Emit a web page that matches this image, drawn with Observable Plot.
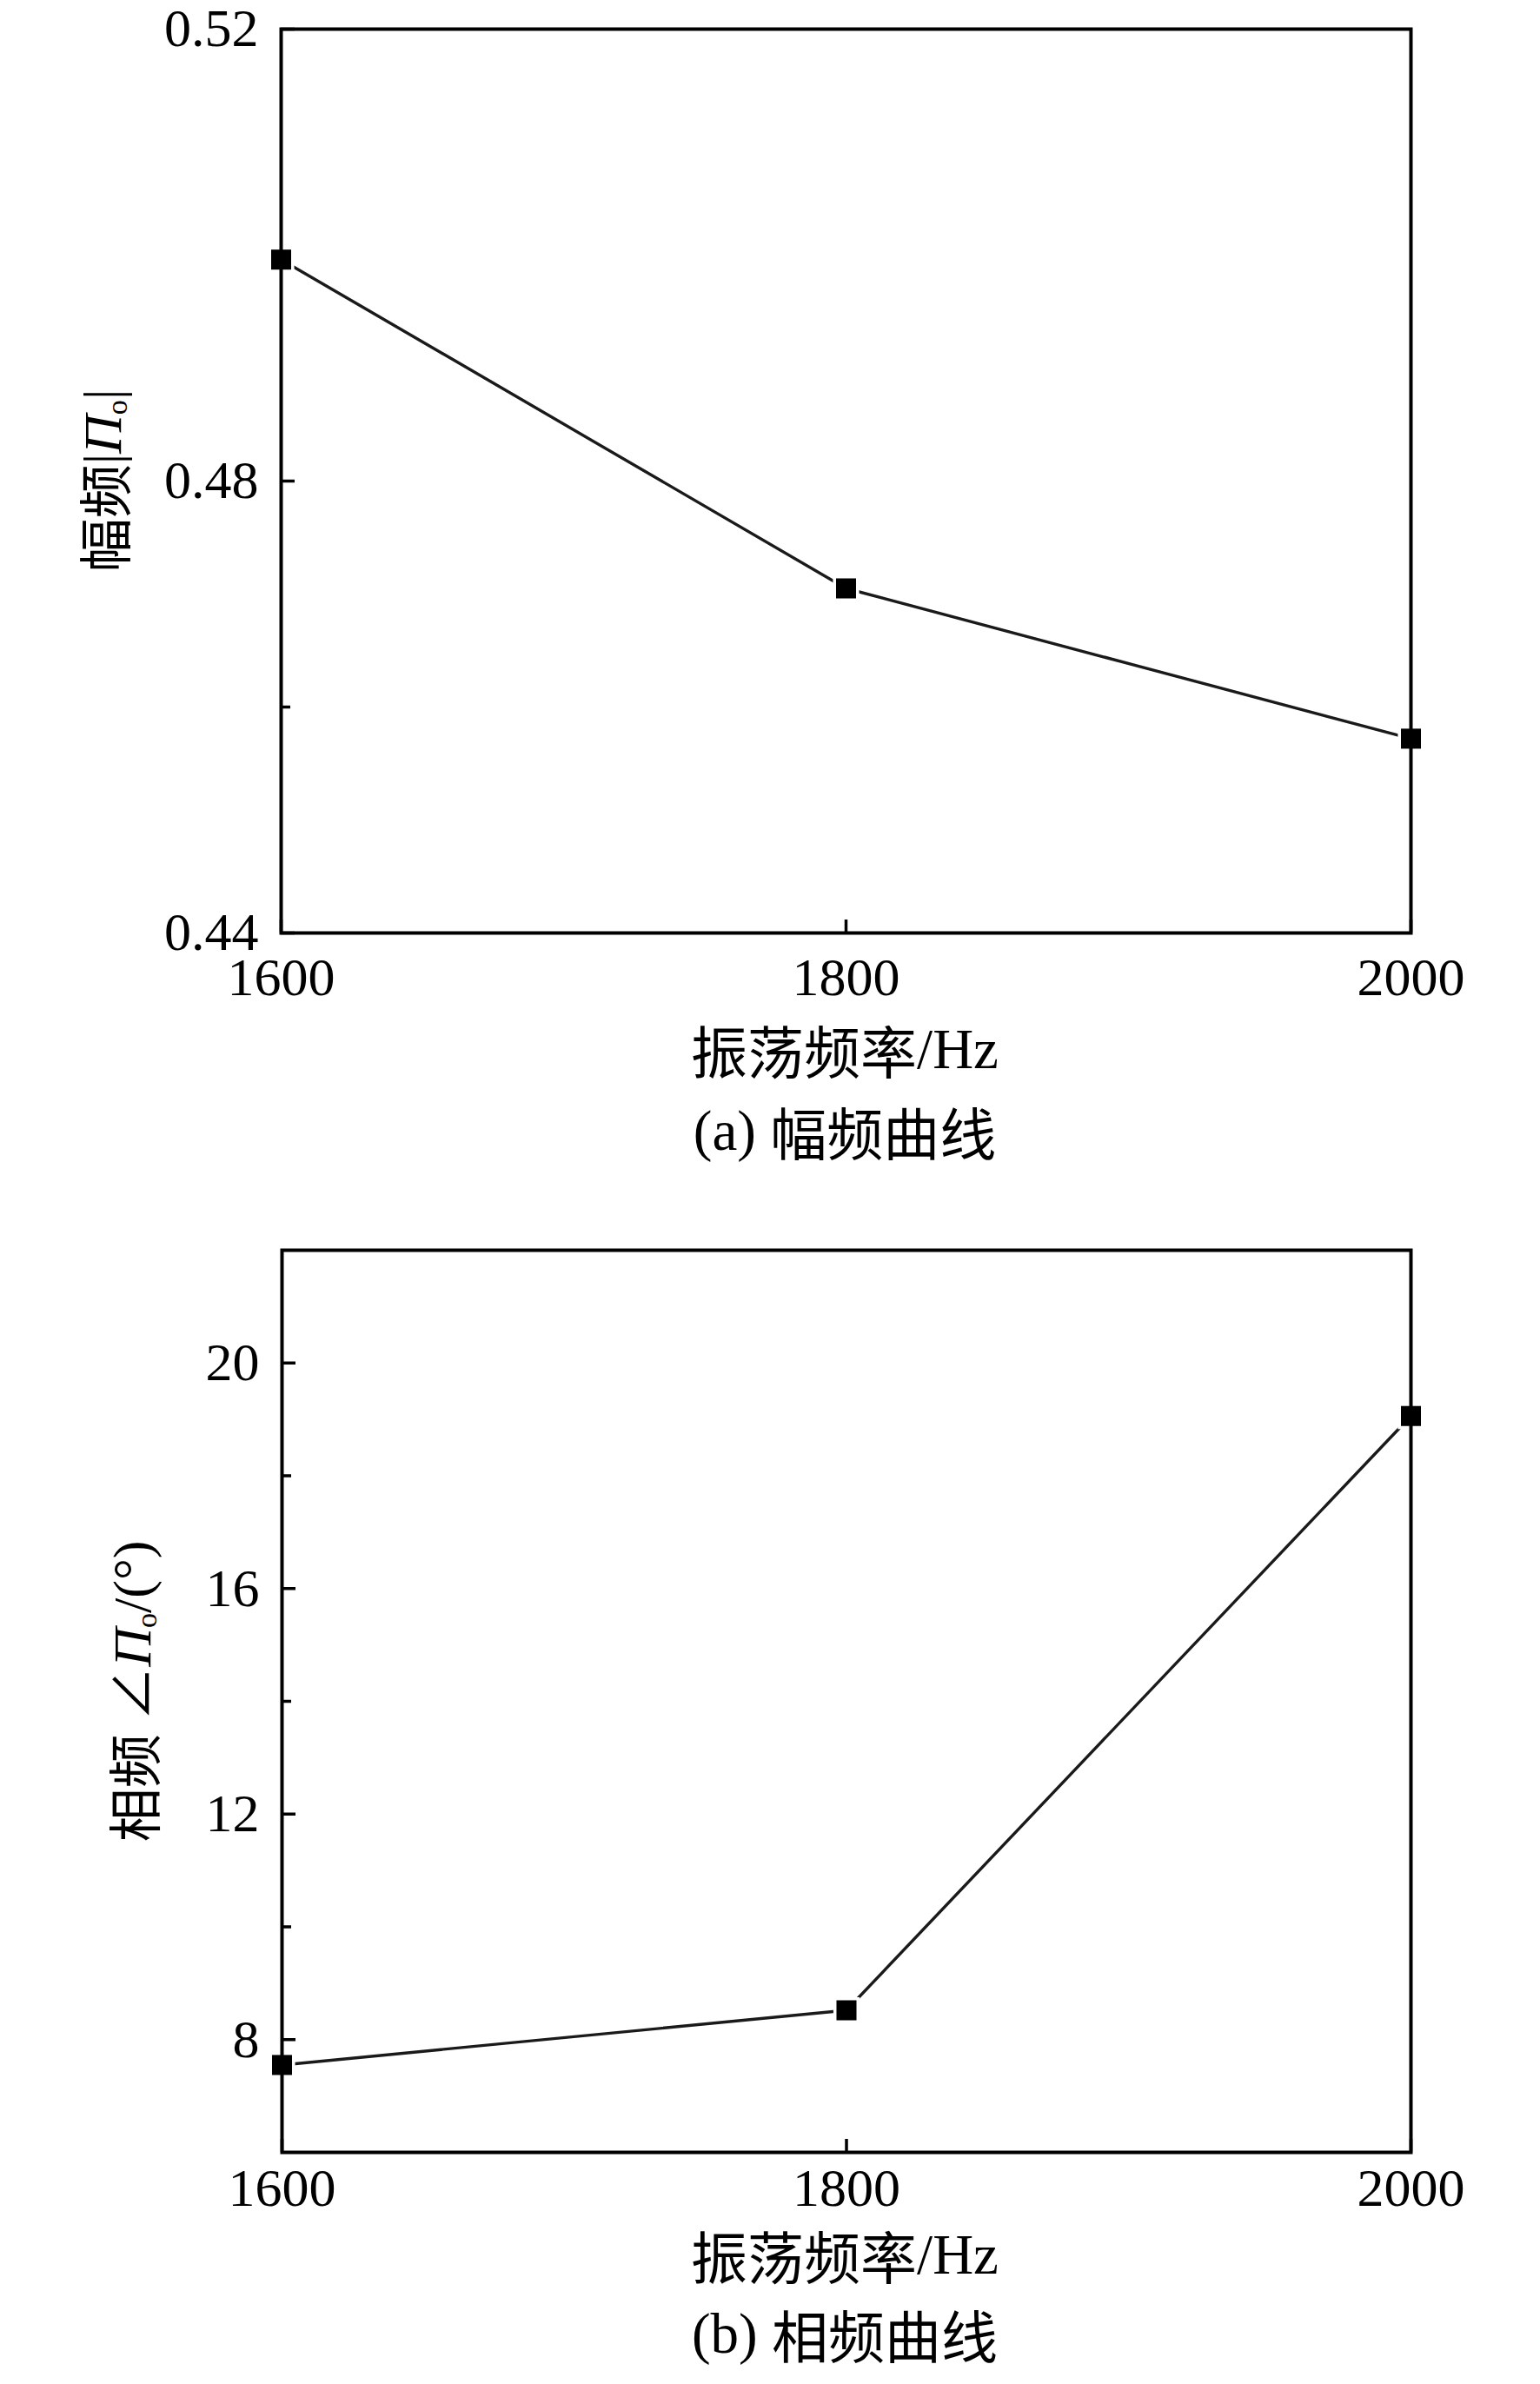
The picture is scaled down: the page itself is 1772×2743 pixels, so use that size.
<!DOCTYPE html>
<html><head><meta charset="utf-8">
<script src="https://cdn.jsdelivr.net/npm/d3@7"></script>
<script src="https://cdn.jsdelivr.net/npm/@observablehq/plot@0.6"></script>
<style>
body{margin:0;background:#fff;width:1772px;height:2743px;position:relative;overflow:hidden;font-family:"Liberation Serif","Noto Sans CJK SC",serif;color:#000}
.abs{position:absolute;white-space:nowrap;transform:translate(-50%,-50%);line-height:1;height:1em;overflow:visible}
.abs span,.abs i{line-height:1}
.rot{transform:translate(-50%,-50%) rotate(-90deg)}
.t{font-size:65px}
.cap{font-size:65px}
.yl{font-size:62px}
i{font-style:italic}
sub{font-size:0.55em;vertical-align:-0.2em;line-height:0}
.cjk{font-family:"Noto Sans CJK SC",sans-serif;vertical-align:top}
</style></head><body>
<div id="c1" style="position:absolute;left:0;top:0"></div>
<div id="c2" style="position:absolute;left:0;top:1380px"></div>

<div class="abs rot yl" style="left:118px;top:553px"><span class="cjk">幅频</span>|<i>Π</i><sub>o</sub>|</div>
<div class="abs t" style="left:972px;top:1207px"><span class="cjk">振荡频率</span>/Hz</div>
<div class="abs cap" style="left:972px;top:1301px">(a) <span class="cjk">幅频曲线</span></div>

<div class="abs rot yl" style="left:152px;top:1946px"><span class="cjk">相频</span> ∠<i>Π</i><sub>o</sub>/(°)</div>
<div class="abs t" style="left:972px;top:2594px"><span class="cjk">振荡频率</span>/Hz</div>
<div class="abs cap" style="left:972px;top:2685px">(b) <span class="cjk">相频曲线</span></div>

<script>
// Data
const freq = [1600, 1800, 2000];
const amplitude = [0.4996, 0.4705, 0.4572];
const phase = [7.55, 8.52, 19.06];

// Axis ticks
const xTicks = [1600, 1800, 2000];
const ampDomain = [0.44, 0.52];
const ampMajor = [0.44, 0.48, 0.52];
const ampMinor = [0.46, 0.50];
const phaseDomain = [6, 22];
const phaseMajor = [8, 12, 16, 20];
const phaseMinor = [10, 14, 18];

function panel({values, yDomain, yMajor, yMinor, yFmt, height, marginTop, marginBottom, marginLeft, xPad}) {
  const data = freq.map((f, i) => ({f, v: values[i]}));
  const blank = () => "";
  return Plot.plot({
    width: 1772, height, marginLeft, marginRight: 149, marginTop, marginBottom,
    style: {fontFamily: '"Liberation Serif", serif', fontSize: "62px", color: "#000", background: "#fff", overflow: "visible"},
    x: {domain: [1600, 2000], label: null},
    y: {domain: yDomain, label: null},
    marks: [
      Plot.line(data, {x: "f", y: "v", stroke: "#1a1a1a", strokeWidth: 3.4}),
      Plot.dot(data, {x: "f", y: "v", symbol: "square", r: 17, fill: "#fff", stroke: null}),
      Plot.frame({stroke: "#000", strokeWidth: 4}),
      Plot.axisY(yMajor, {tickSize: -16, strokeWidth: 3.5, tickFormat: blank, label: null}),
      Plot.axisY(yMinor, {tickSize: -11, strokeWidth: 3.5, tickFormat: blank, label: null}),
      Plot.axisY(yMajor, {tickSize: 0, tickPadding: 26, tickFormat: yFmt, label: null}),
      Plot.axisX(xTicks, {tickSize: -15, strokeWidth: 3.5, tickFormat: blank, label: null}),
      Plot.axisX(xTicks, {tickSize: 0, tickPadding: xPad, tickFormat: d => String(d), label: null}),
      Plot.dot(data, {x: "f", y: "v", symbol: "square", r: 13, fill: "#000", stroke: null})
    ]
  });
}

document.getElementById("c1").append(panel({
  values: amplitude, yDomain: ampDomain, yMajor: ampMajor, yMinor: ampMinor,
  yFmt: d3.format(".2f"), height: 1160, marginTop: 33, marginBottom: 87, marginLeft: 323, xPad: 27
}));
document.getElementById("c2").append(panel({
  values: phase, yDomain: phaseDomain, yMajor: phaseMajor, yMinor: phaseMinor,
  yFmt: d => String(d), height: 1176, marginTop: 58, marginBottom: 80, marginLeft: 324, xPad: 17
}));
</script>
</body></html>
